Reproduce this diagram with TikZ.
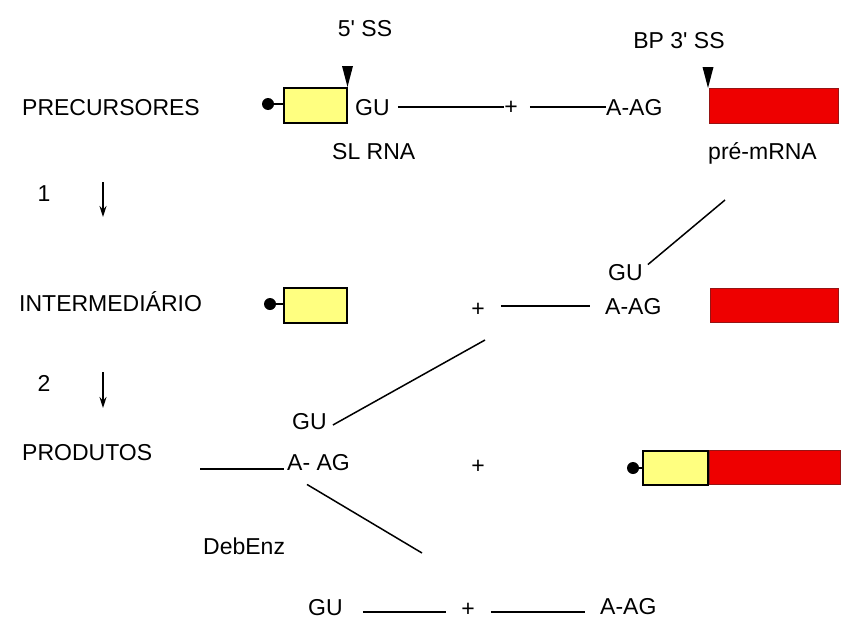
\documentclass[tikz,border=0pt]{standalone}
\usepackage{fontspec}
\setmainfont{Liberation Sans}
\usetikzlibrary{arrows.meta}
\definecolor{exonyellow}{RGB}{255,255,128}
\definecolor{exonred}{RGB}{238,0,0}
\definecolor{exonredline}{RGB}{150,20,20}
\begin{document}
\begin{tikzpicture}[x=1pt,y=-1pt,
  lbl/.style={font=\fontsize{23}{27}\selectfont, inner sep=0pt,
    text height=16.5pt, text depth=0pt, anchor=west},
  plussign/.style={lbl, anchor=center},
  strand/.style={line width=1.9pt},
  thin strand/.style={line width=1.5pt},
  capdot/.style={circle, fill=black, minimum size=12pt, inner sep=0pt},
  slexon/.style={draw=black, line width=1.5pt, fill=exonyellow,
    minimum width=63pt, minimum height=35pt, inner sep=0pt, anchor=north west},
  preexon/.style={draw=exonredline, line width=0.8pt, fill=exonred,
    minimum width=129pt, minimum height=35pt, inner sep=0pt, anchor=north west},
  step arrow/.style={line width=1.6pt, -{Stealth[length=11pt,width=7pt]}},
  ssmarker/.style={fill=black}
]
\useasboundingbox (0,0) rectangle (842,626);

% ---------- splice site labels ----------
\node[plussign] (ss5) at (365,28) {5\textquotesingle{} SS};
\node[plussign] (ss3) at (679,40) {BP 3\textquotesingle{} SS};

% ---------- row labels and steps ----------
\node[lbl] (pre) at (22,107) {PRECURSORES};
\node[lbl] (int) at (19,303) {INTERMEDIÁRIO};
\node[lbl] (prod) at (22,452) {PRODUTOS};
\node[plussign] (n1) at (44,193) {1};
\node[plussign] (n2) at (44,383) {2};
\coordinate (a1s) at (103,182);
\coordinate (a1e) at (103,217);
\coordinate (a2s) at (103,372);
\coordinate (a2e) at (103,408);
\draw[step arrow] (a1s) -- (a1e);
\draw[step arrow] (a2s) -- (a2e);

% ---------- precursors ----------
\node[slexon] (sl1) at (283,87) {};
\node[capdot] (cap1) at (268,104) {};
\draw[strand] (cap1) -- (sl1.west |- cap1);
\fill[ssmarker] (sl1.north east) -- ++(-5.5,-21) -- ++(11,0) -- cycle;
\node[lbl] (gu1) at (355,107) {GU};
\node[plussign] (plus1) at (511,106) {+};
\node[lbl] (aag1) at (606,107) {A-AG};
\draw[strand] ([xshift=8pt]gu1.east) -- (plus1.west |- gu1.east);
\draw[strand] ([xshift=12pt]plus1.east |- aag1.west) -- (aag1.west);
\node[preexon] (pre1) at (709,88) {};
\fill[ssmarker] ([xshift=-1pt]pre1.north west) -- ++(-5.5,-21) -- ++(11,0) -- cycle;
\node[lbl] (slrna) at (332,151) {SL RNA};
\node[lbl] (premrna) at (708,151) {pré-mRNA};

% ---------- intermediates ----------
\node[slexon] (sl2) at (283,287) {};
\node[capdot] (cap2) at (270,304) {};
\draw[strand] (cap2) -- (sl2.west |- cap2);
\node[lbl] (gu2) at (608,272) {GU};
\coordinate (lariat1) at (725,200);
\draw[thin strand] (lariat1) -- ([xshift=5pt,yshift=-1pt]gu2.north east);
\node[plussign] (plus2) at (478,308) {+};
\node[lbl] (aag2) at (605,306) {A-AG};
\draw[strand] ([xshift=16pt]plus2.east |- aag2.west) -- ([xshift=-15pt]aag2.west);
\node[preexon, minimum width=128pt, minimum height=34pt] (pre2) at (710,288) {};

% ---------- products ----------
\node[lbl] (gu3) at (292,421) {GU};
\coordinate (lariat2) at (485,340);
\draw[thin strand] (lariat2) -- ([xshift=6pt,yshift=-4pt]gu3.east);
\node[lbl] (aag3) at (287,462) {A- AG};
\coordinate (tail3) at (200,469);
\draw[strand] (tail3) -- ([xshift=-3pt]aag3.west |- tail3);
\coordinate (lariat3) at (422,553);
\draw[thin strand] ([xshift=20pt,yshift=-14pt]aag3.south west) -- (lariat3);
\node[lbl] (debenz) at (203,546) {DebEnz};
\node[plussign] (plus3) at (478,465) {+};
\node[slexon, minimum width=65pt, minimum height=34pt] (sl3) at (642,450) {};
\node[preexon, minimum width=131pt, minimum height=34pt, anchor=west] (pre3) at (sl3.east) {};
\draw[line width=1.5pt] (sl3.north east) -- (sl3.south east);
\node[capdot] (cap3) at (633,468) {};
\draw[strand] (cap3) -- (sl3.west |- cap3);

% ---------- debranched ----------
\node[lbl] (gu4) at (308,607) {GU};
\node[plussign] (plus4) at (468,608) {+};
\node[lbl] (aag4) at (600,606) {A-AG};
\coordinate (l4) at (0,612);
\draw[strand] ([xshift=20pt]gu4.east |- l4) -- ([xshift=-15pt]plus4.west |- l4);
\draw[strand] ([xshift=16pt]plus4.east |- l4) -- ([xshift=-15pt]aag4.west |- l4);
\end{tikzpicture}
\end{document}
